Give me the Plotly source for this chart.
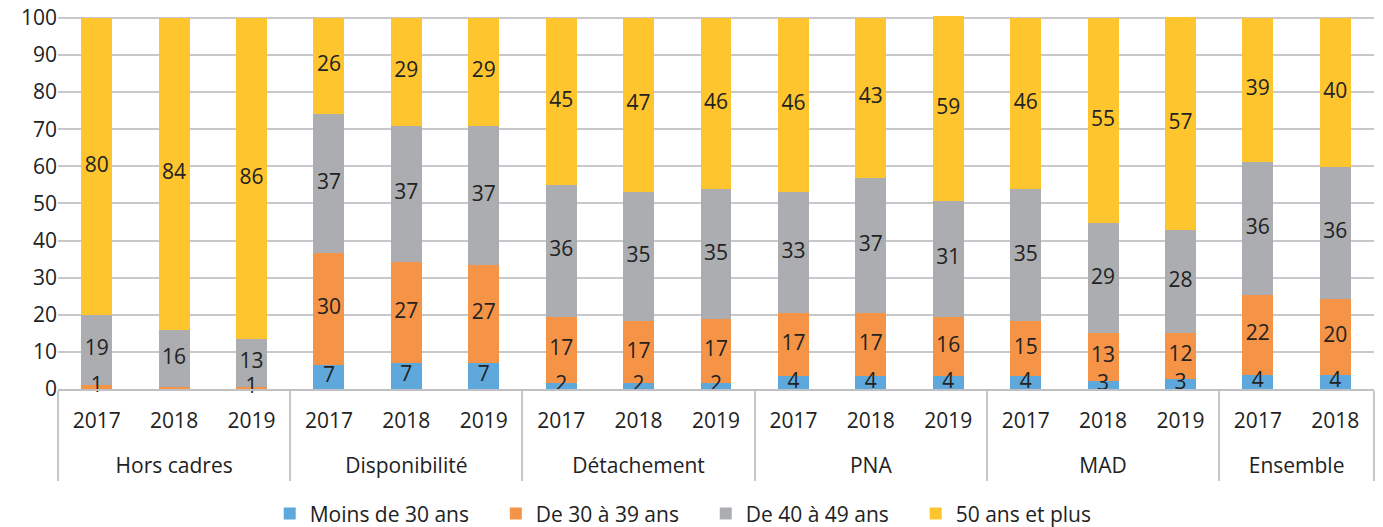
import numpy as np
import plotly.graph_objects as go

# Catégories (statut / année)
groupes = ["Hors cadres"] * 3 + ["Disponibilité"] * 3 + ["Détachement"] * 3 + \
          ["PNA"] * 3 + ["MAD"] * 3 + ["Ensemble"] * 2
annees = ["2017", "2018", "2019"] * 5 + ["2017", "2018"]

# Hauteurs des segments (en %)
moins_30 = [0.0, 0.1, 0.0, 6.5, 7.0, 7.0, 1.6, 1.6, 1.6, 3.4, 3.4, 3.4, 3.4, 2.2, 2.7, 3.9, 3.9]
de_30_39 = [1.0, 0.4, 0.6, 30.1, 27.1, 26.4, 17.8, 16.6, 17.2, 17.0, 17.0, 16.0, 14.8, 12.8, 12.4, 21.5, 20.3]
de_40_49 = [19.0, 15.4, 12.8, 37.5, 36.8, 37.5, 35.6, 34.9, 35.0, 32.7, 36.5, 31.2, 35.6, 29.6, 27.7, 35.7, 35.7]
plus_50 = [80.0, 84.1, 86.6, 25.9, 29.1, 29.1, 45.0, 46.9, 46.2, 46.9, 43.1, 49.8, 46.2, 55.4, 57.3, 38.9, 40.1]

# Étiquettes affichées
lab_moins_30 = ["", "", "", "7", "7", "7", "2", "2", "2", "4", "4", "4", "4", "3", "3", "4", "4"]
lab_30_39 = ["1", "", "1", "30", "27", "27", "17", "17", "17", "17", "17", "16", "15", "13", "12", "22", "20"]
lab_40_49 = ["19", "16", "13", "37", "37", "37", "36", "35", "35", "33", "37", "31", "35", "29", "28", "36", "36"]
lab_50 = ["80", "84", "86", "26", "29", "29", "45", "47", "46", "46", "43", "59", "46", "55", "57", "39", "40"]

NB = "\u00a0" * 4  # espace en fin de libellé de légende
series = [
    ("Moins de 30 ans" + NB, moins_30, lab_moins_30, "#5fa8dc"),
    ("De 30 à 39 ans" + NB, de_30_39, lab_30_39, "#f59447"),
    ("De 40 à 49 ans" + NB, de_40_49, lab_40_49, "#abadb1"),
    ("50 ans et plus", plus_50, lab_50, "#fec52e"),
]

# ligne vide sous l'année pour écarter les libellés de groupe
annees_aff = [a + "<br> " for a in annees]
xcat = [groupes, annees_aff]

fig = go.Figure()
base = np.zeros(len(annees))
for nom, vals, labs, coul in series:
    vals = np.array(vals)
    fig.add_trace(go.Bar(x=xcat, y=vals, name=nom, marker_color=coul,
                         marker_line_width=0))
    # étiquettes au milieu de chaque segment (non coupées par l'axe)
    fig.add_trace(go.Scatter(x=xcat, y=base + vals / 2, mode="text", text=labs,
                             textposition="middle center", cliponaxis=False,
                             textfont=dict(color="#222222", size=21),
                             showlegend=False, hoverinfo="skip"))
    base = base + vals

fig.update_layout(
    barmode="stack", bargap=0.6,
    width=1383, height=527,
    margin=dict(l=58, r=9, t=16, b=138),
    paper_bgcolor="white", plot_bgcolor="white",
    font=dict(family="Open Sans, sans-serif", size=21, color="#222222"),
    legend=dict(orientation="h", xref="container", x=0.494, xanchor="center",
                yref="container", y=0.025, yanchor="middle",
                font=dict(size=21), itemwidth=30, traceorder="normal"),
    showlegend=True,
)
fig.update_yaxes(range=[0, 100.5], tickvals=list(range(0, 101, 10)),
                 showgrid=True, gridcolor="#c8c8cc", gridwidth=2, automargin=False,
                 zeroline=False, showline=False, ticks="", ticklen=0)
fig.update_xaxes(range=[-0.5, len(annees) - 0.5],
                 showline=True, linecolor="#c0c0c4", linewidth=2, automargin=False,
                 showdividers=True, dividercolor="#c8c8cc", dividerwidth=2,
                 tickson="boundaries", ticks="", ticklabelstandoff=12)

fig.write_html("out.html", config={"displayModeBar": False},
               post_script="document.body.style.margin='0';")
